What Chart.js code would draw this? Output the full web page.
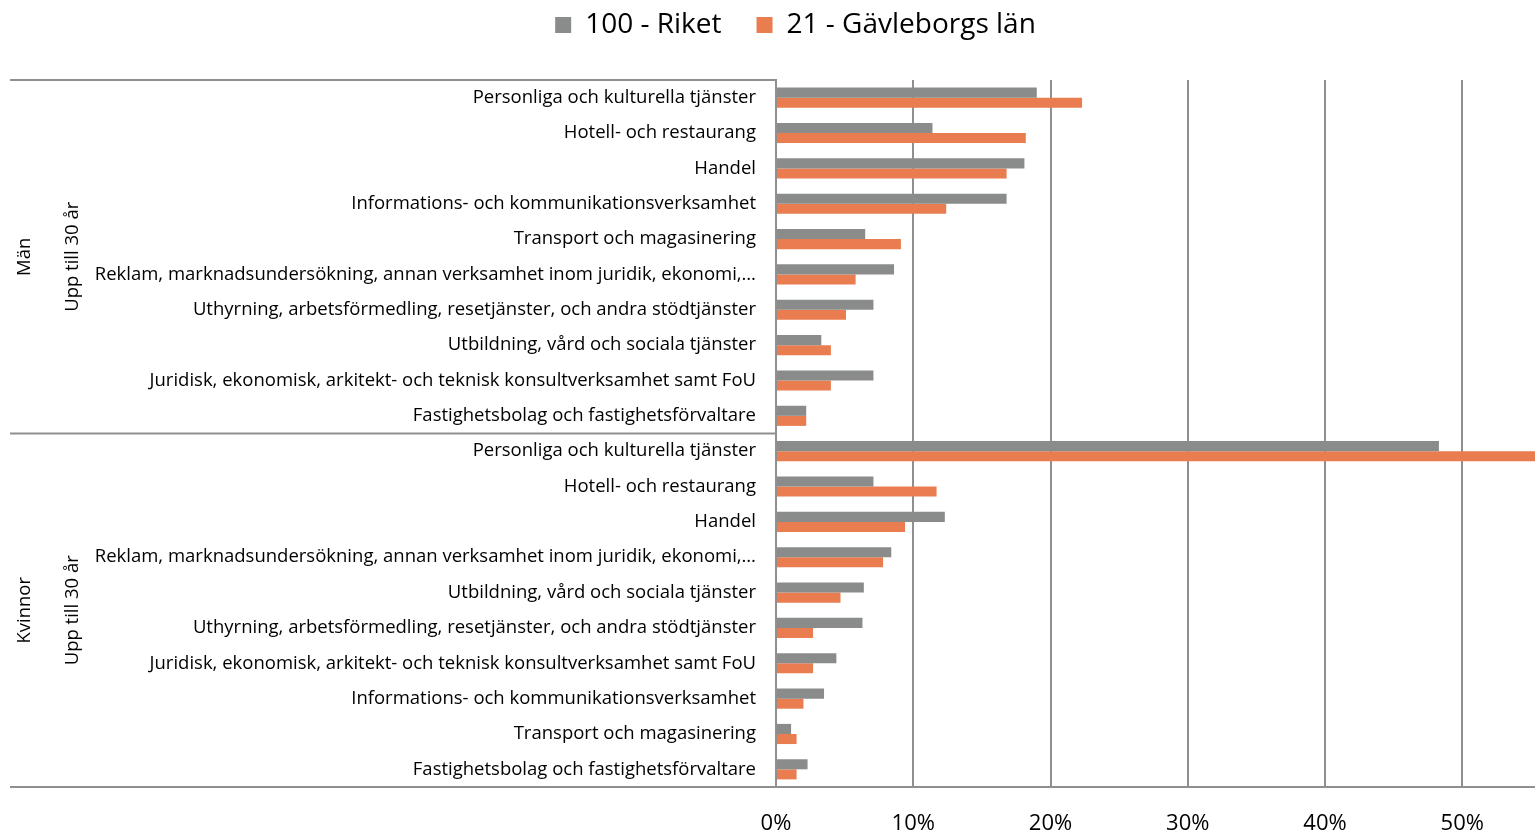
<!DOCTYPE html>
<html lang="sv">
<head>
<meta charset="utf-8">
<title>Upp till 30 år</title>
<script src="https://cdn.jsdelivr.net/npm/chart.js@4/dist/chart.umd.min.js"></script>
<style>
  html, body { margin: 0; padding: 0; background: #fff; }
  #wrap { width: 1535px; height: 834px; position: relative; }
</style>
</head>
<body>
<div id="wrap"><canvas id="chart"></canvas></div>
<script>
// Kategorier (ordning uppifrån och ned)
const branscherMan = [
  'Personliga och kulturella tjänster',
  'Hotell- och restaurang',
  'Handel',
  'Informations- och kommunikationsverksamhet',
  'Transport och magasinering',
  'Reklam, marknadsundersökning, annan verksamhet inom juridik, ekonomi,…',
  'Uthyrning, arbetsförmedling, resetjänster, och andra stödtjänster',
  'Utbildning, vård och sociala tjänster',
  'Juridisk, ekonomisk, arkitekt- och teknisk konsultverksamhet samt FoU',
  'Fastighetsbolag och fastighetsförvaltare'
];
const branscherKvinnor = [
  'Personliga och kulturella tjänster',
  'Hotell- och restaurang',
  'Handel',
  'Reklam, marknadsundersökning, annan verksamhet inom juridik, ekonomi,…',
  'Utbildning, vård och sociala tjänster',
  'Uthyrning, arbetsförmedling, resetjänster, och andra stödtjänster',
  'Juridisk, ekonomisk, arkitekt- och teknisk konsultverksamhet samt FoU',
  'Informations- och kommunikationsverksamhet',
  'Transport och magasinering',
  'Fastighetsbolag och fastighetsförvaltare'
];
const grupper = ['Män', 'Kvinnor'];
const alder = 'Upp till 30 år';

// Andelar i procent
const riketMan = [19.0, 11.4, 18.1, 16.8, 6.5, 8.6, 7.1, 3.3, 7.1, 2.2];
const riketKvinnor = [48.3, 7.1, 12.3, 8.4, 6.4, 6.3, 4.4, 3.5, 1.1, 2.3];
const gavleMan = [22.3, 18.2, 16.8, 12.4, 9.1, 5.8, 5.1, 4.0, 4.0, 2.2];
const gavleKvinnor = [56.0, 11.7, 9.4, 7.8, 4.7, 2.7, 2.7, 2.0, 1.5, 1.5];

const xTicks = [0, 10, 20, 30, 40, 50];
const xMax = 55.3;

const labels = branscherMan.concat(branscherKvinnor);

// Legenden får fast höjd så att diagramytan börjar på rätt ställe
const legendHojd = {
  id: 'legendHojd',
  beforeInit(chart) {
    const legend = chart.legend;
    if (!legend) return;
    const fit = legend.fit;
    legend.fit = function() {
      fit.call(this);
      this.height = 109;
    };
    const draw = legend.draw;
    legend.draw = function() {
      const ctx = this.ctx;
      ctx.save();
      ctx.translate(28, 5);
      draw.call(this);
      ctx.restore();
    };
  }
};

// Ritar gruppetiketter och skiljelinjer till vänster
const gruppPlugin = {
  id: 'gruppPlugin',
  afterDraw(chart) {
    const ctx = chart.ctx;
    const y = chart.scales.y;
    const area = chart.chartArea;
    const n = branscherMan.length;
    const step = y.getPixelForValue(1) - y.getPixelForValue(0);
    const top = y.getPixelForValue(0) - step / 2;
    const mid = y.getPixelForValue(n) - step / 2;
    const bot = y.getPixelForValue(labels.length - 1) + step / 2;

    ctx.save();
    ctx.strokeStyle = '#8f8f8f';
    ctx.lineWidth = 2;
    ctx.beginPath();
    ctx.moveTo(10, top); ctx.lineTo(area.left, top);
    ctx.moveTo(10, mid); ctx.lineTo(area.left, mid);
    ctx.moveTo(10, bot); ctx.lineTo(area.right, bot);
    ctx.stroke();

    ctx.fillStyle = '#000';
    ctx.font = '18.5px "Open Sans"';
    ctx.textAlign = 'center';
    ctx.textBaseline = 'middle';
    const centers = [(top + mid) / 2, (mid + bot) / 2];
    grupper.forEach(function(g, i) {
      ctx.save();
      ctx.translate(25, centers[i]);
      ctx.rotate(-Math.PI / 2);
      ctx.fillText(g, 0, 0);
      ctx.restore();
      ctx.save();
      ctx.translate(73, centers[i]);
      ctx.rotate(-Math.PI / 2);
      ctx.fillText(alder, 0, 0);
      ctx.restore();
    });
    ctx.restore();
  }
};

new Chart(document.getElementById('chart'), {
  type: 'bar',
  data: {
    labels: labels,
    datasets: [{
      label: '100 - Riket',
      data: riketMan.concat(riketKvinnor),
      backgroundColor: '#898C8A',
      categoryPercentage: 0.57,
      barPercentage: 1.0
    }, {
      label: '21 - Gävleborgs län',
      data: gavleMan.concat(gavleKvinnor),
      backgroundColor: '#E97D50',
      categoryPercentage: 0.57,
      barPercentage: 1.0
    }]
  },
  options: {
    indexAxis: 'y',
    responsive: true,
    maintainAspectRatio: false,
    animation: false,
    layout: { padding: { top: -29, left: 0, right: 0, bottom: 0 } },
    plugins: {
      legend: {
        position: 'top',
        labels: {
          font: { family: 'Open Sans', size: 28 },
          color: '#000',
          boxWidth: 16,
          boxHeight: 16,
          padding: 35
        }
      },
      tooltip: { enabled: false }
    },
    scales: {
      x: {
        min: 0,
        max: xMax,
        afterBuildTicks: function(scale) {
          scale.ticks = xTicks.map(function(v) { return { value: v }; });
        },
        afterFit: function(scale) { scale.height = 47; },
        grid: { color: '#8f8f8f', lineWidth: 2, drawTicks: false },
        border: { display: false },
        ticks: {
          font: { family: 'Open Sans', size: 22 },
          color: '#000',
          padding: 24,
          callback: function(v) { return v + '%'; }
        }
      },
      y: {
        afterFit: function(scale) { scale.width = 776; },
        grid: { display: false, drawTicks: false },
        border: { color: '#8f8f8f', width: 2 },
        ticks: {
          font: { family: 'Open Sans', size: 18.5 },
          color: '#000',
          padding: 20,
          autoSkip: false
        }
      }
    }
  },
  plugins: [legendHojd, gruppPlugin]
});
</script>
</body>
</html>
